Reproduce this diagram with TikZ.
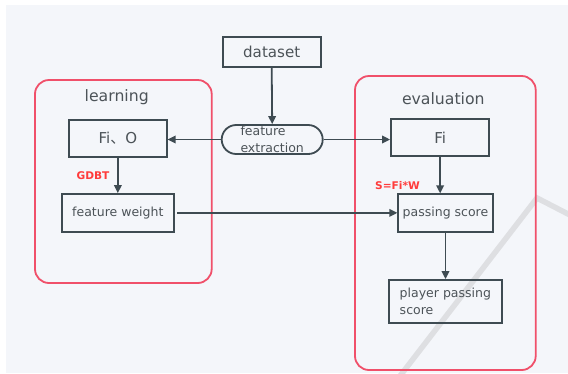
\documentclass[tikz,border=0pt]{standalone}
\usepackage{fontspec}
\setmainfont{DejaVu Sans}
\newfontfamily\cjk{Noto Sans CJK SC}
\usetikzlibrary{arrows.meta,shapes.misc}
\definecolor{lineC}{HTML}{3E4B52}
\definecolor{txtC}{HTML}{4C5358}
\definecolor{redC}{HTML}{F0506A}
\definecolor{labred}{HTML}{FF3B3B}
\definecolor{bgC}{HTML}{F4F6FA}
\definecolor{wmC}{HTML}{DEDFE2}
\tikzset{
  box/.style={draw=lineC, line width=1.8pt, inner sep=0pt, text=txtC,
    font=\fontsize{12.5}{17}\selectfont},
  group/.style={draw=redC, line width=1.8pt, rounded corners=14pt, inner sep=0pt},
  grouptitle/.style={text=txtC, inner sep=0pt, font=\fontsize{15.7}{18}\selectfont},
  redlabel/.style={text=labred, inner sep=0pt, font=\bfseries\fontsize{10.6}{12}\selectfont},
  arr/.style={draw=lineC, line width=1.8pt, -{Triangle[length=8pt,width=7.5pt]}},
}
\begin{document}
\begin{tikzpicture}[x=1pt,y=-1pt]
\useasboundingbox (0,0) rectangle (568,373);
\fill[white] (0,0) rectangle (568,373);
\fill[bgC] (6,5) rectangle (568,373);
% faint watermark stroke
\draw[wmC, line width=5.5pt, line join=miter] (400,376) -- (537,198) -- (570,215);

% groups
\node[group, minimum width=176.7pt, minimum height=203pt] (learnG) at (123.35,181.5) {};
\node[group, minimum width=180.7pt, minimum height=294pt] (evalG) at (445.35,223) {};
\node[grouptitle] (learnT) at (116.7,97.3) {learning};
\node[grouptitle] (evalT) at (443.3,99) {evaluation};

% boxes
\node[box, minimum width=98pt, minimum height=30.6pt, font=\fontsize{15.1}{18}\selectfont] (ds) at (271.7,52) {dataset};
\node[box, rounded rectangle, minimum width=101pt, minimum height=29pt, align=left] (fe) at (272.2,139.5) {feature\\extraction};
\node[box, minimum width=97.7pt, minimum height=36.7pt, font=\fontsize{15}{18}\selectfont] (fio) at (117.85,138.35) {Fi{\cjk 、}O};
\node[box, minimum width=112.3pt, minimum height=37.7pt] (fw) at (117.85,212.85) {feature weight};
\node[box, minimum width=98.3pt, minimum height=37pt, font=\fontsize{15}{18}\selectfont] (fi) at (440.15,137.5) {Fi};
\node[box, minimum width=94.4pt, minimum height=37.4pt] (ps) at (445.5,213) {passing score};
\node[box, minimum width=112.7pt, minimum height=43.3pt, align=left] (pps) at (445.35,301.65) {player passing\\score};

% red labels
\node[redlabel] (gdbt) at (93,176) {GDBT};
\node[redlabel] (sfw) at (397.5,185.7) {S=Fi*W};

% connectors
\draw[arr] (ds.south) -- (fe.north);
\draw[arr] (fe.west) -- (fio.east |- fe.west);
\draw[arr] (fe.east) -- (fi.west |- fe.east);
\draw[arr] (fio.south) -- (fw.north);
\draw[arr] (fi.south) -- (fi.south |- ps.north);
\draw[arr] (ps.south) -- (ps.south |- pps.north);
\draw[arr] ([xshift=2.5pt]fw.east) -- (ps.west |- fw.east);
\end{tikzpicture}
\end{document}
